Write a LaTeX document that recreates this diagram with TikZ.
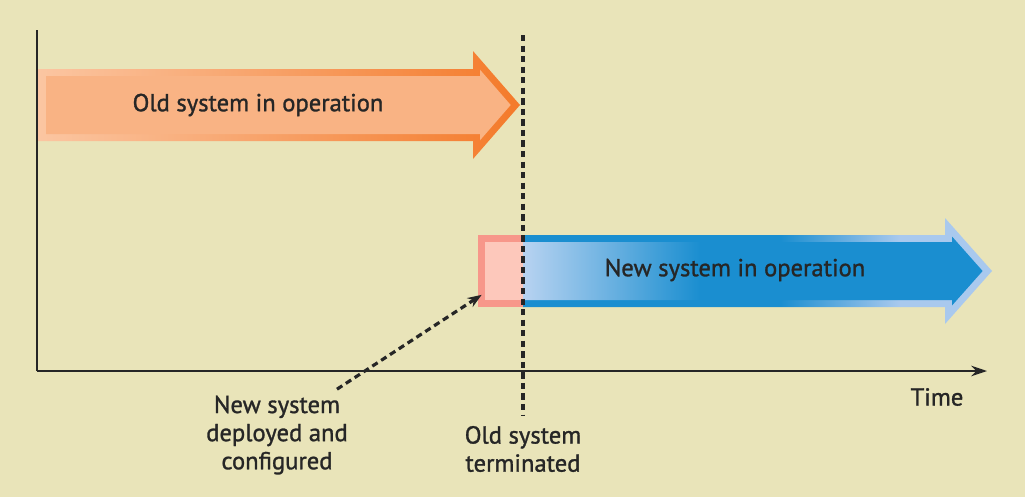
\documentclass[tikz,border=0pt]{standalone}
\usepackage{fontspec}
\setmainfont{PT Sans}[FakeBold=1.2]
\usetikzlibrary{arrows.meta,calc}
\definecolor{fondo}{HTML}{E9E4B9}
\definecolor{ink}{HTML}{262626}
\definecolor{oldlight}{HTML}{FBC6A2}
\definecolor{olddark}{HTML}{F47A2A}
\definecolor{oldfill}{HTML}{F9B384}
\definecolor{pinkdark}{HTML}{F7978A}
\definecolor{pinklight}{HTML}{FDC8BB}
\definecolor{newblue}{HTML}{1A8ED0}
\definecolor{newlight}{HTML}{B8D3F1}
\definecolor{headlight}{HTML}{A9C9EE}

\begin{document}
\begin{tikzpicture}[x=0.02cm, y=-0.02cm,
  txt/.style={font=\fontsize{14}{16}\selectfont, text=ink, align=center, inner sep=0pt},
  axisline/.style={draw=ink, line width=1.1pt},
  dashline/.style={draw=ink, line width=1.8pt, dash pattern=on 3.6pt off 2.4pt},
  dasharrow/.style={dashline, -{Stealth[length=8pt, width=6pt]}}]
\useasboundingbox[fill=fondo] (0,0) rectangle (1025,497);

% old system
\shade[left color=oldlight, right color=olddark] (37,69) -- (473,69) -- (473,51) -- (520,105)
  -- (473,159) -- (473,141) -- (37,141) -- cycle;
\fill[oldfill] (46,76) -- (480,76) -- (480,69.7) -- (510.7,105) -- (480,140.3) -- (480,134)
  -- (46,134) -- cycle;
\node[txt] (oldtext) at (258,105) {Old system in operation};

% deployment box
\node[fill=pinkdark, minimum width=0.9cm, minimum height=1.46cm, inner sep=0pt] (newbox) at (500.5,271) {};
\fill[pinklight] (485,242) rectangle (newbox.east |- 0,300);

% new system
\begin{scope}
  \clip (523,235) -- (945,235) -- (945,218) -- (992,271) -- (945,324) -- (945,307) -- (523,307) -- cycle;
  \fill[newblue] (523,210) rectangle (780,330);
  \shade[left color=newblue, right color=headlight] (780,210) rectangle (900,330);
  \fill[headlight] (900,210) rectangle (1000,330);
\end{scope}
\begin{scope}
  \clip (523,242) -- (952,242) -- (952,236.5) -- (982.6,271) -- (952,305.5) -- (952,300) -- (523,300) -- cycle;
  \shade[left color=newlight, right color=newblue] (523,230) rectangle (700,312);
  \fill[newblue] (700,230) rectangle (990,312);
\end{scope}
\node[txt] (newtext) at (735,270) {New system in operation};

% axes
\coordinate (origin) at (37,371);
\coordinate (ytop) at (37,30);
\coordinate (xend) at (987,371);
\draw[axisline] (ytop) -- (origin);
\draw[axisline, -{Stealth[length=9pt, width=6pt]}] (origin) -- (xend);
\node[txt] (time) at (937,397) {Time};

% termination
\coordinate (termtop) at (523,35);
\coordinate (termbot) at (523,416);
\draw[dashline] (termtop) -- (termbot);
\node[txt] (termin) at (523,449) {Old system\\terminated};

\node[txt] (deployed) at (277,435) {New system\\deployed and\\configured};
\draw[dasharrow] ($(deployed.north)+(60,-6)$) -- ($(newbox.south west)+(4,-13)$);
\end{tikzpicture}
\end{document}
